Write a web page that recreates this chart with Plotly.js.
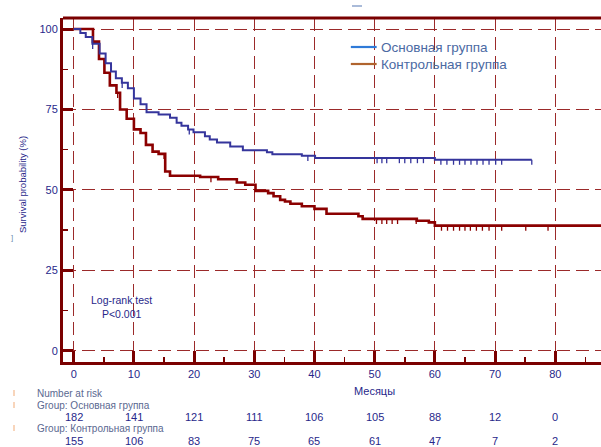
<!DOCTYPE html>
<html>
<head>
<meta charset="utf-8">
<script src="https://cdn.plot.ly/plotly-3.0.1.min.js"></script>
<style>html,body{margin:0;padding:0;background:#fff;}#chart{width:601px;height:447px;}</style>
</head>
<body>
<div id="chart"></div>
<script>
// ---- data (months, survival %) ----
const blueName = "Основная группа";
const redName = "Контрольная группа";
const blueT = [0,1.1,2.0,3.1,4.3,5.3,6.2,7.0,8.0,9.0,10.0,11.1,12.1,14.1,16.0,17.1,17.9,19.0,19.9,21.8,22.6,23.8,26.0,28.1,32.1,33.0,37.9,40.1,60.0,76.1];
const blueS = [100,98.8,97.5,95.4,92.4,89.4,86.8,84.7,83.3,81.6,78.4,76.6,74.1,73.4,72.4,70.9,69.9,68.8,67.9,66.7,65.7,64.7,63.5,62.3,61.7,61.1,60.6,59.9,59.4,59.4];
const redT = [0,3.2,4.2,5.1,6.0,7.1,7.7,8.8,10.0,11.1,12.0,13.1,14.1,15.2,16.0,21.0,24.0,27.1,28.5,30.2,32.3,33.2,34.3,35.1,36.0,37.9,40.0,42.0,47.3,48.0,57.0,59.0,60.0,90];
const redS = [100,96.1,90.7,86.4,82.5,80.2,75.0,72.1,68.8,67.7,64.0,61.9,61.2,55.7,54.4,54.0,53.3,52.3,51.6,49.7,49.0,48.0,46.9,46.4,45.7,44.9,44.1,42.6,41.8,41.0,40.4,39.9,38.9,38.9];
const blueCens = [3.15,8.05,19.2,38.9,50.4,51.2,52.0,54.1,55.0,56.0,57.1,58.1,61.0,62.0,63.1,64.1,65.0,66.0,67.0,68.0,69.0,70.1,71.1,76.1];
const redCens = [7.3,15.0,22.8,50.3,51.2,52.0,52.9,53.8,56.9,61.1,62.1,63.1,64.1,65.0,65.9,66.9,67.9,69.0,71.1,75.1,78.8];
const riskTimes = [0,10,20,30,40,50,60,70,80];
const riskBlue = [182,141,121,111,106,105,88,12,0];
const riskRed = [155,106,83,75,65,61,47,7,2];
const xTicks = [0,10,20,30,40,50,60,70,80];
const yTicks = [0,25,50,75,100];

// ---- styling ----
const axisCol = '#7a0000';
const gridCol = '#9b2a2a';
const blueCol = '#35359c';
const redCol = '#8b0000';
const txtCol = '#27278a';
const tickDrop = 1.6;

function levelAt(T, S, t) {
  let v = S[0];
  for (let i = 0; i < T.length; i++) { if (T[i] <= t) v = S[i]; }
  return v;
}
function censTrace(T, S, C, col) {
  return {
    x: C, y: C.map(t => levelAt(T, S, t)), mode: 'markers', type: 'scatter',
    marker: {size: 1, opacity: 0}, showlegend: false, hoverinfo: 'skip',
    error_y: {type: 'data', symmetric: false, array: C.map(() => 0),
      arrayminus: C.map(() => tickDrop), width: 0, thickness: 1.3, color: col}
  };
}

const traces = [
  {x: redT, y: redS, mode: 'lines', type: 'scatter', line: {shape: 'hv', color: redCol, width: 2.6}, name: redName, showlegend: false},
  {x: blueT, y: blueS, mode: 'lines', type: 'scatter', line: {shape: 'hv', color: blueCol, width: 2}, name: blueName, showlegend: false},
  censTrace(redT, redS, redCens, redCol),
  censTrace(blueT, blueS, blueCens, blueCol)
];

const font = 'Liberation Sans, Arial, sans-serif';
const annotations = [
  {xref: 'x', yref: 'y', x: 7.9, y: 13.5, text: 'Log-rank test<br>P&lt;0.001', showarrow: false,
   font: {family: font, size: 10.5, color: txtCol}, align: 'center'},
  {xref: 'paper', yref: 'paper', x: 0, y: 0.5, xanchor: 'center', yanchor: 'middle', text: 'Survival probability (%)',
   showarrow: false, textangle: -90, xshift: -41, yshift: 5, font: {family: font, size: 9.5, color: txtCol}},
  {xref: 'x', yref: 'paper', x: 50, y: 0, yshift: -21, yanchor: 'top', text: 'Месяцы', showarrow: false,
   font: {family: font, size: 11, color: txtCol}},
  {xref: 'paper', yref: 'paper', x: 0, y: 1, xanchor: 'center', yanchor: 'middle', xshift: -51, yshift: -219, text: ']',
   showarrow: false, font: {family: font, size: 8, color: '#6f8db0'}},
  // custom legend
  {xref: 'paper', yref: 'paper', x: 0.588, y: 1, xanchor: 'left', yanchor: 'middle', yshift: -29,
   text: blueName, showarrow: false, font: {family: font, size: 13.5, color: '#4b6aa3'}},
  {xref: 'paper', yref: 'paper', x: 0.588, y: 1, xanchor: 'left', yanchor: 'middle', yshift: -46,
   text: redName, showarrow: false, font: {family: font, size: 13.5, color: '#4b6aa3'}},
  // number at risk block
  {xref: 'paper', yref: 'paper', x: 0, y: 0, xshift: -28, yshift: -31, xanchor: 'left', yanchor: 'middle',
   text: 'Number at risk', showarrow: false, font: {family: font, size: 10, color: '#5a6890'}},
  {xref: 'paper', yref: 'paper', x: 0, y: 0, xshift: -28, yshift: -43, xanchor: 'left', yanchor: 'middle',
   text: 'Group: ' + blueName, showarrow: false, font: {family: font, size: 10, color: '#5a6890'}},
  {xref: 'paper', yref: 'paper', x: 0, y: 0, xshift: -28, yshift: -66, xanchor: 'left', yanchor: 'middle',
   text: 'Group: ' + redName, showarrow: false, font: {family: font, size: 10, color: '#5a6890'}}
];
riskTimes.forEach((t, i) => {
  annotations.push({xref: 'x', yref: 'paper', x: t, y: 0, yshift: -55, yanchor: 'middle', text: String(riskBlue[i]),
    showarrow: false, font: {family: font, size: 11, color: txtCol}});
  annotations.push({xref: 'x', yref: 'paper', x: t, y: 0, yshift: -79, yanchor: 'middle', text: String(riskRed[i]),
    showarrow: false, font: {family: font, size: 11, color: txtCol}});
});

const plotH = 447 - 18 - 85;
const shapes = [
  {type: 'line', xref: 'paper', yref: 'paper', x0: 0, x1: 1, y0: 1, y1: 1, line: {color: axisCol, width: 3}},
  {type: 'line', xref: 'paper', yref: 'paper', x0: 0.535, x1: 0.583, y0: 1 - 29 / plotH, y1: 1 - 29 / plotH,
   line: {color: '#2f7ad8', width: 2.2}},
  {type: 'line', xref: 'paper', yref: 'paper', x0: 0.535, x1: 0.583, y0: 1 - 46 / plotH, y1: 1 - 46 / plotH,
   line: {color: '#b0642e', width: 2.2}},
  // top artefact dash
  {type: 'line', xref: 'paper', yref: 'paper', x0: (352 - 63) / 538, x1: (362 - 63) / 538,
   y0: 1 + 12 / plotH, y1: 1 + 12 / plotH, line: {color: '#8ea4cc', width: 1.5}}
];
// small orange markers at the left of the risk table
[-31, -43, -66].forEach(dy => {
  shapes.push({type: 'line', xref: 'paper', yref: 'paper', x0: -49 / 538, x1: -49 / 538,
    y0: (dy - 3) / plotH, y1: (dy + 3) / plotH, line: {color: '#f3b98e', width: 1.2}});
});

const layout = {
  width: 601, height: 447,
  margin: {l: 63, r: 0, t: 18, b: 85},
  paper_bgcolor: '#ffffff', plot_bgcolor: '#ffffff',
  showlegend: false,
  xaxis: {
    range: [-1.78, 87.6], tickvals: xTicks, ticktext: xTicks.map(String),
    showline: true, linecolor: axisCol, linewidth: 3, zeroline: false,
    ticks: 'inside', ticklen: 11, tickwidth: 3, tickcolor: axisCol,
    minor: {dtick: 5, tick0: 0, ticks: 'inside', ticklen: 5, tickwidth: 1.5, tickcolor: axisCol, showgrid: false},
    showgrid: true, gridcolor: gridCol, gridwidth: 1, griddash: '13px,6px',
    tickfont: {family: font, size: 11, color: txtCol}
  },
  yaxis: {
    range: [-3.5, 103.43], tickvals: yTicks, ticktext: yTicks.map(String),
    showline: true, linecolor: axisCol, linewidth: 3, zeroline: false,
    ticks: 'inside', ticklen: 10, tickwidth: 3, tickcolor: axisCol,
    minor: {dtick: 12.5, tick0: 0, ticks: 'inside', ticklen: 5, tickwidth: 1.5, tickcolor: axisCol, showgrid: false},
    showgrid: true, gridcolor: gridCol, gridwidth: 1, griddash: '13px,6px',
    tickfont: {family: font, size: 11, color: txtCol}
  },
  annotations: annotations,
  shapes: shapes
};

Plotly.newPlot('chart', traces, layout, {displayModeBar: false, staticPlot: true});
</script>
</body>
</html>
